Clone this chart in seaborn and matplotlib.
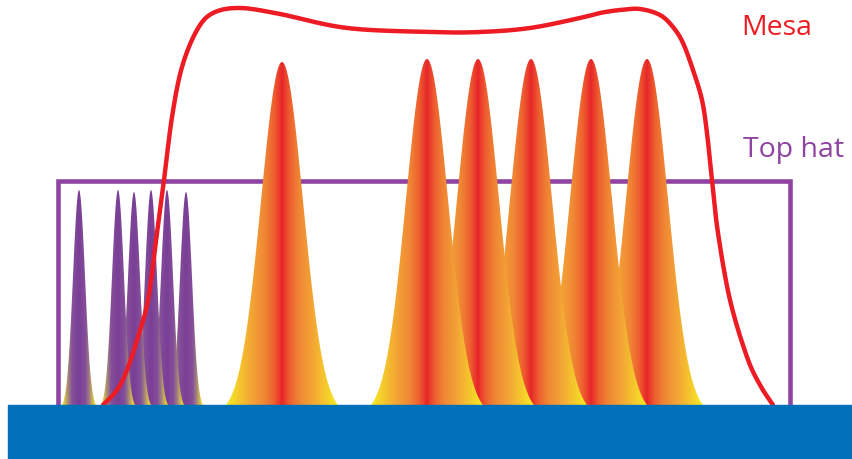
import numpy as np
import pandas as pd
import seaborn as sns
import matplotlib.pyplot as plt
from matplotlib.colors import LinearSegmentedColormap
from matplotlib.patches import Rectangle

# values (pixel coordinates, y grows downward)
purple_centers = [79, 118, 134, 151, 167, 186]
purple_tops = [190, 190, 192, 190, 190, 192]
orange_centers = [282, 427, 478, 531, 591, 647]
orange_tops = [62, 59, 59, 59, 59, 59]

mesa_x = [103, 117, 127, 137, 148, 157, 164, 172, 182, 197, 213, 240, 280, 347, 430, 480,
          530, 580, 600, 620, 640, 660, 673, 683, 693, 702, 707, 712, 718, 730, 747, 760, 773]
mesa_y = [405, 390, 370, 340, 300, 233, 180, 117, 67, 30, 13, 8, 14, 28, 32, 32,
          28, 18, 13, 10, 9, 15, 27, 43, 70, 100, 133, 180, 233, 300, 357, 385, 405]

tophat_x = [58, 58, 790, 790]
tophat_y = [405, 181, 181, 405]

labels = ["Mesa", "Top hat"]

baseline = 405
RED = "#ED1C24"
PURPLE = "#8E44A0"
BLUE = "#0070B8"

orange_cmap = LinearSegmentedColormap.from_list(
    "flame", [(0, "#E8262B"), (0.05, "#EB3D2C"), (0.15, "#EE622F"),
              (0.3, "#F08535"), (0.55, "#F3A635"), (0.8, "#F5CC2C"), (1.0, "#F7EC22")])
purple_cmap = LinearSegmentedColormap.from_list(
    "violet", [(0, "#7A3E96"), (0.4, "#84509A"), (0.6, "#A07E80"),
               (0.8, "#CDB455"), (1.0, "#F5E82A")])

sns.set_style("white")
fig = plt.figure(figsize=(8.53, 4.59), dpi=100)
ax = fig.add_axes([0, 0, 1, 1])


def draw_peak(c, top, sigma, halfw, cmap, z):
    xs = np.linspace(c - halfw, c + halfw, 300)
    h = baseline - top
    g = np.exp(-(xs - c) ** 2 / (2 * sigma ** 2))
    g_end = np.exp(-halfw ** 2 / (2 * sigma ** 2))
    ys = baseline - h * (g - g_end) / (1 - g_end)
    poly = ax.fill(np.r_[xs, xs[-1], xs[0]], np.r_[ys, baseline + 2, baseline + 2],
                   facecolor="none", edgecolor="none")[0]
    grad = np.abs(np.linspace(-1, 1, 400))[None, :]
    im = ax.imshow(grad, cmap=cmap, vmin=0, vmax=1, aspect="auto",
                   extent=(c - halfw, c + halfw, baseline + 2, top - 1),
                   interpolation="bilinear", zorder=z)
    im.set_clip_path(poly)


def smooth(xs, ys, k=16):
    # catmull-rom pass through the read points, just for a round stroke
    p = np.column_stack([xs, ys]).astype(float)
    p = np.vstack([p[0], p, p[-1]])
    out = []
    t = np.linspace(0, 1, k, endpoint=False)[:, None]
    for i in range(1, len(p) - 2):
        p0, p1, p2, p3 = p[i - 1], p[i], p[i + 1], p[i + 2]
        out.append(0.5 * (2 * p1 + (-p0 + p2) * t + (2 * p0 - 5 * p1 + 4 * p2 - p3) * t ** 2
                          + (-p0 + 3 * p1 - 3 * p2 + p3) * t ** 3))
    out.append(p[-1][None, :])
    out = np.vstack(out)
    return out[:, 0], out[:, 1]


# top hat box
ax.plot(tophat_x, tophat_y, color=PURPLE, lw=3.3, zorder=2, solid_joinstyle="miter")

# peaks, left ones drawn on top
n = len(orange_centers)
for i, (c, t) in enumerate(zip(orange_centers, orange_tops)):
    draw_peak(c, t, 21, 56, orange_cmap, 3 + (n - i) * 0.01)
n = len(purple_centers)
for i, (c, t) in enumerate(zip(purple_centers, purple_tops)):
    draw_peak(c, t, 6, 17, purple_cmap, 3.5 + (n - i) * 0.01)

# mesa profile
sx, sy = smooth(mesa_x, mesa_y)
mesa = pd.DataFrame({"x": sx, "y": sy})
sns.lineplot(data=mesa, x="x", y="y", sort=False, estimator=None, color=RED,
             lw=3.2, ax=ax, zorder=5)

# substrate
ax.add_patch(Rectangle((8, baseline), 853 - 8, 459 - baseline, color=BLUE, zorder=6))

ax.text(741, 35, labels[0], color=RED, fontsize=20.5, family="Open Sans",
        ha="left", va="baseline")
ax.text(743, 157, labels[1], color=PURPLE, fontsize=20.5, family="Open Sans",
        ha="left", va="baseline")

ax.set_xlim(0, 853)
ax.set_ylim(459, 0)
ax.axis("off")
fig.savefig("out.png", dpi=100)
